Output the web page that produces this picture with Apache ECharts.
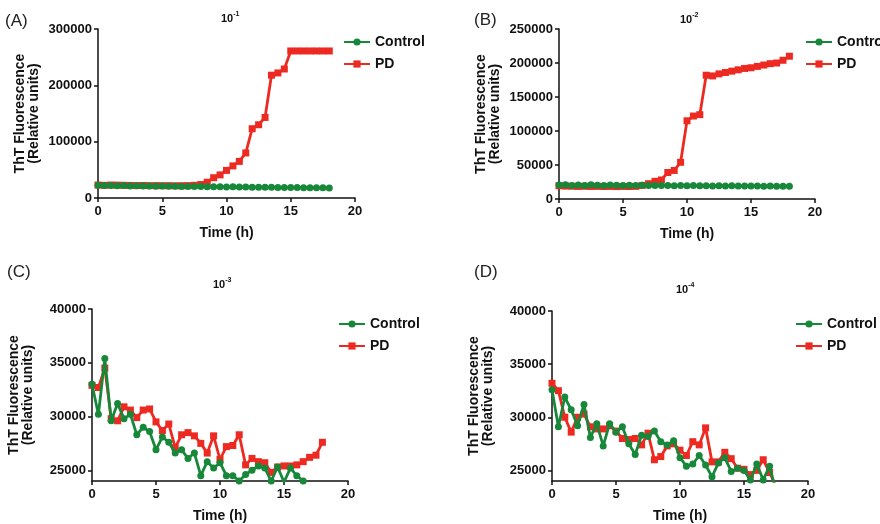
<!DOCTYPE html>
<html><head><meta charset="utf-8">
<script src="https://cdn.jsdelivr.net/npm/echarts@6/dist/echarts.min.js"></script>
<style>html,body{margin:0;padding:0;background:#fff}#c{width:880px;height:524px}</style>
</head><body><div id="c"></div>
<script>
// ---- data ----
const timeH = [0,0.5,1,1.5,2,2.5,3,3.5,4,4.5,5,5.5,6,6.5,7,7.5,8,8.5,9,9.5,10,10.5,11,11.5,12,12.5,13,13.5,14,14.5,15,15.5,16,16.5,17,17.5,18];
const xTicks = [0,5,10,15,20];
const panelLabels = ['(A)','(B)','(C)','(D)'];
const dilutionExp = ['-1','-2','-3','-4'];
const seriesNames = ['Control','PD'];
const yTicksA = [0,100000,200000,300000];
const yTicksB = [0,50000,100000,150000,200000,250000];
const yTicksCD = [25000,30000,35000,40000];

const controlA = [22500,22000,22300,21800,22000,21500,21800,21300,21500,21000,21200,20800,21000,20500,20600,20200,20400,20000,19800,20000,19600,19800,19400,19500,19200,19300,18900,19000,18700,18800,18500,18600,18300,18400,18100,18000,17800];
const pdA = [23000,22500,23000,22800,22500,22300,22000,22200,21900,22000,21800,21900,21700,21800,22000,22500,24000,28000,36000,41000,49000,57000,65000,80000,123000,130000,143000,218000,222000,229000,261000,261000,261000,261000,261000,261000,261000];

const controlB = [20500,21000,20000,20500,20000,20800,20300,20000,20500,20200,19800,20400,20000,20200,19800,20000,19700,20000,19600,19800,19500,19700,19400,19600,19300,19500,19200,19400,19100,19300,19000,19200,18900,19000,18800,18900,18700];
const pdB = [19500,19000,18800,18500,18700,18500,18600,18400,18500,18300,18500,18400,18600,20000,22500,26000,28000,39000,42000,54000,115000,122000,124000,182000,181000,184000,186000,188000,190000,192000,193000,195000,197000,199000,200000,204000,210000];

const controlC = [33000,30200,35400,29600,31200,29800,30200,28300,29000,28600,26900,28100,27600,26600,26900,26100,26600,24500,25800,25200,25700,24500,24500,24000,24600,25000,25400,25200,24000,25300,23900,25200,24500,24000];
const pdC = [32900,32700,34500,29800,29600,30900,30600,29900,30600,30700,29500,28700,29300,27100,28300,28500,28200,27500,26600,28200,26000,27200,27300,28300,25500,26100,25800,25700,24800,25300,25400,25400,25500,25800,26200,26400,27600];

const controlD = [32600,29100,31900,30700,29200,31200,28100,29400,27300,29400,28600,29100,27500,26500,28300,28200,28700,27700,27400,27800,26200,25400,25600,26400,25500,24400,25700,26200,24900,25200,25000,24100,25600,24100,25400,23000];
const pdD = [33200,32500,30000,28600,30000,30300,29100,28900,28900,29200,28700,28000,27900,28000,27400,28500,26000,26300,27300,27500,26900,26400,27700,27400,29000,25800,25800,26700,26100,25200,25100,24600,25000,26000,24800,23500];

// ---- layout ----
const GREEN = '#17883a', RED = '#ec2a22', INK = '#111';
const FONT = '"Liberation Sans", Arial, Helvetica, sans-serif';
const grids = [
  {left:98, top:29, width:257, height:169},
  {left:559, top:29, width:256, height:170},
  {left:92, top:309, width:256, height:172},
  {left:552, top:311, width:256, height:171}
];
const yCfg = [
  {min:0, max:300000, ticks:yTicksA},
  {min:0, max:250000, ticks:yTicksB},
  {min:24000, max:40000, ticks:yTicksCD},
  {min:24000, max:40000, ticks:yTicksCD}
];
const dataSets = [[controlA,pdA],[controlB,pdB],[controlC,pdC],[controlD,pdD]];
const labelPos = [{left:5,top:13},{left:474,top:12},{left:7,top:264},{left:474,top:264}];
const titlePos = [{left:221,top:11},{left:680,top:12},{left:213,top:277},{left:676,top:282}];
const legendPos = [{left:343,top:35},{left:805,top:35},{left:338,top:317},{left:795,top:317}];

function pairs(vals){ return vals.map((v,i)=>[timeH[i], v]); }

const xAxes = grids.map((g,i)=>({
  type:'value', gridIndex:i, min:0, max:20,
  axisTick:{show:true, length:4, customValues:xTicks, lineStyle:{color:INK,width:1.5}},
  axisLabel:{customValues:xTicks, fontWeight:'bold', fontSize:13, color:INK, margin:7, fontFamily:FONT},
  axisLine:{onZero:false, lineStyle:{color:INK,width:1.5}},
  splitLine:{show:false},
  name:'Time (h)', nameLocation:'middle', nameGap:28,
  nameTextStyle:{fontWeight:'bold', fontSize:14, color:INK, fontFamily:FONT}
}));
const yAxes = grids.map((g,i)=>({
  type:'value', gridIndex:i, min:yCfg[i].min, max:yCfg[i].max,
  axisTick:{show:true, length:4, customValues:yCfg[i].ticks, lineStyle:{color:INK,width:1.5}},
  axisLabel:{customValues:yCfg[i].ticks, formatter:v=>String(v), fontWeight:'bold', fontSize:13, color:INK, margin:6, fontFamily:FONT},
  axisLine:{show:true, onZero:false, lineStyle:{color:INK,width:1.5}},
  splitLine:{show:false},
  name:'ThT Fluorescence\n(Relative units)', nameLocation:'middle', nameGap:57,
  nameTextStyle:{fontWeight:'bold', fontSize:14, lineHeight:14, color:INK, fontFamily:FONT}
}));

const series = [];
dataSets.forEach((ds,i)=>{
  series.push({name:seriesNames[1], type:'line', xAxisIndex:i, yAxisIndex:i, data:pairs(ds[1]),
    symbol:'rect', symbolSize:7, color:RED, lineStyle:{width:2.8,color:RED}, itemStyle:{color:RED}, clip:true, z:2});
  series.push({name:seriesNames[0], type:'line', xAxisIndex:i, yAxisIndex:i, data:pairs(ds[0]),
    symbol:'circle', symbolSize:7, color:GREEN, lineStyle:{width:2.8,color:GREEN}, itemStyle:{color:GREEN}, clip:true, z:3});
});

const titles = [];
panelLabels.forEach((t,i)=>{
  titles.push({text:t, left:labelPos[i].left, top:labelPos[i].top, padding:0,
    textStyle:{fontSize:17, fontWeight:'normal', color:'#222', fontFamily:FONT}});
  titles.push({text:'{b|10}{s|'+dilutionExp[i]+'}', left:titlePos[i].left, top:titlePos[i].top, padding:0,
    textStyle:{rich:{
      b:{fontSize:11, fontWeight:'bold', color:INK, lineHeight:15, fontFamily:FONT},
      s:{fontSize:7, fontWeight:'bold', color:INK, lineHeight:9, verticalAlign:'top', fontFamily:FONT}
    }}});
});

const legends = legendPos.map(p=>({
  orient:'vertical', left:p.left, top:p.top, padding:0,
  data:seriesNames, itemWidth:26, itemHeight:9, itemGap:8,
  textStyle:{fontSize:14, fontWeight:'bold', color:INK, lineHeight:14, fontFamily:FONT}
}));

const chart = echarts.init(document.getElementById('c'), null, {renderer:'canvas'});
chart.setOption({
  animation:false, backgroundColor:'#fff',
  textStyle:{fontFamily:FONT},
  title:titles, legend:legends, grid:grids, xAxis:xAxes, yAxis:yAxes, series:series
});
</script></body></html>
